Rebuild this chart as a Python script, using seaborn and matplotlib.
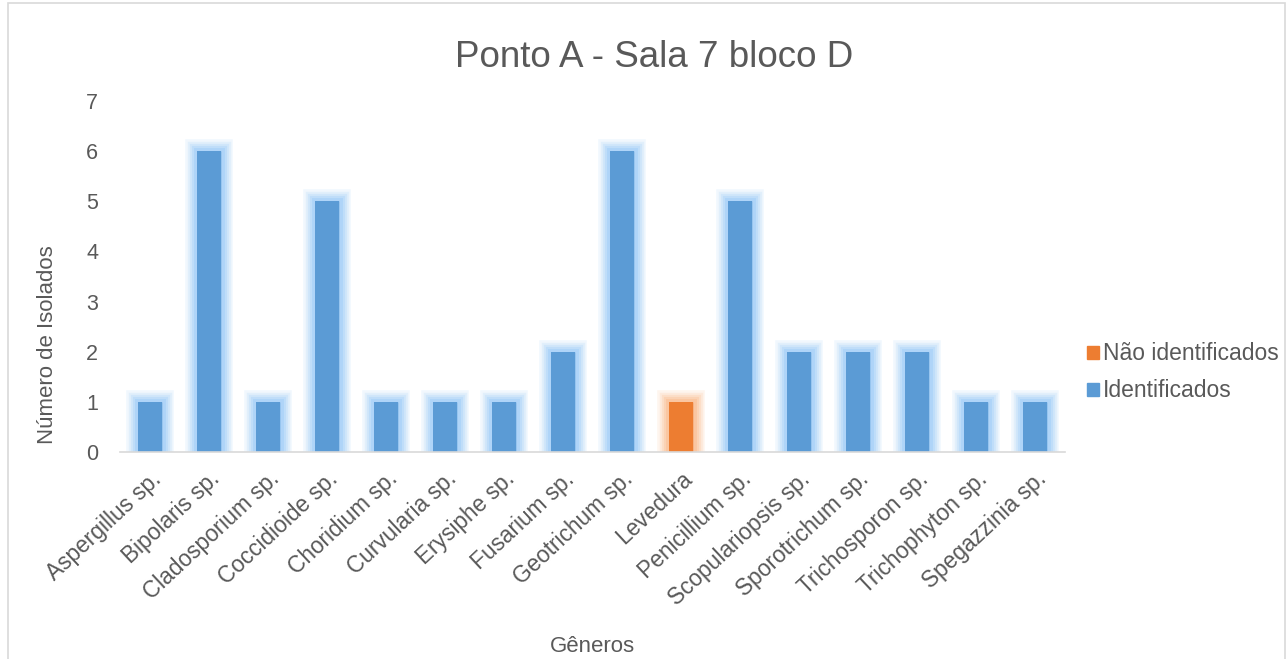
import pandas as pd
import seaborn as sns
import matplotlib.pyplot as plt
from matplotlib import patheffects as pe
from matplotlib.patches import Patch

generos = ['Aspergillus sp.', 'Bipolaris sp.', 'Cladosporium sp.', 'Coccidioide sp.',
           'Choridium sp.', 'Curvularia sp.', 'Erysiphe sp.', 'Fusarium sp.',
           'Geotrichum sp.', 'Levedura', 'Penicillium sp.', 'Scopulariopsis sp.',
           'Sporotrichum sp.', 'Trichosporon sp.', 'Trichophyton sp.', 'Spegazzinia sp.']
isolados = [1, 6, 1, 5, 1, 1, 1, 2, 6, 1, 5, 2, 2, 2, 1, 1]
tipo = ['Identificados'] * 9 + ['Não identificados'] + ['Identificados'] * 6

cores = {'Identificados': '#5B9BD5', 'Não identificados': '#ED7D31'}
brilho = {'Identificados': '#9CCBF7', 'Não identificados': '#F9B98C'}

df = pd.DataFrame({'genero': generos, 'n': isolados, 'tipo': tipo})

sns.set_style('white')
plt.rcParams['font.family'] = ['Liberation Sans', 'DejaVu Sans']
cinza = '#595959'

fig = plt.figure(figsize=(12.88, 6.59), dpi=100)
ax = fig.add_axes([0.0935, 0.314, 0.733, 0.533])

sns.barplot(data=df, x='genero', y='n', hue='tipo', palette=cores, dodge=False,
            width=0.41, saturation=1, legend=False, ax=ax)

# glow effect around bars
for patch in ax.patches:
    cor = patch.get_facecolor()
    t = 'Não identificados' if cor[0] > 0.8 else 'Identificados'
    efeitos = []
    for lw, a in [(17, 0.14), (14, 0.18), (11, 0.24), (8, 0.32), (5, 0.45)]:
        efeitos.append(pe.withStroke(linewidth=lw, foreground=brilho[t], alpha=a))
    efeitos.append(pe.Normal())
    patch.set_path_effects(efeitos)
    patch.set_edgecolor('none')

ax.set_ylim(0, 7)
ax.set_xlim(-0.5, len(generos) - 0.5)
ax.set_yticks(range(0, 8))
ax.tick_params(axis='y', labelsize=15.5, colors=cinza, length=0, pad=16)
ax.tick_params(axis='x', labelsize=16.3, colors=cinza, length=0, pad=11)
for lbl in ax.get_xticklabels():
    lbl.set_rotation(43)
    lbl.set_ha('right')
    lbl.set_rotation_mode('anchor')

for s in ['top', 'right', 'left']:
    ax.spines[s].set_visible(False)
ax.spines['bottom'].set_color('#D9D9D9')
ax.spines['bottom'].set_linewidth(1.2)

ax.set_ylabel('Número de Isolados', fontsize=16, color=cinza)
ax.yaxis.set_label_coords(-0.066, 0.305)
ax.set_xlabel('Gêneros', fontsize=16, color=cinza)
ax.xaxis.set_label_coords(0.5, -0.525)
fig.text(0.508, 0.913, 'Ponto A - Sala 7 bloco D', fontsize=26.5, color=cinza,
         ha='center', va='center')

handles = [Patch(color=cores['Não identificados'], label='Não identificados'),
           Patch(color=cores['Identificados'], label='Identificados')]
leg = fig.legend(handles=handles, loc='center left', bbox_to_anchor=(0.828, 0.435),
                 frameon=False, fontsize=16.5, handlelength=0.5, handleheight=0.5,
                 handletextpad=0.2, labelspacing=0.6)
for t in leg.get_texts():
    t.set_color(cinza)

fig.patches.append(plt.Rectangle((0.006, -0.01), 0.992, 1.005, transform=fig.transFigure,
                                 fill=False, edgecolor='#D9D9D9', linewidth=1.2))

fig.savefig('out.png', dpi=100)
